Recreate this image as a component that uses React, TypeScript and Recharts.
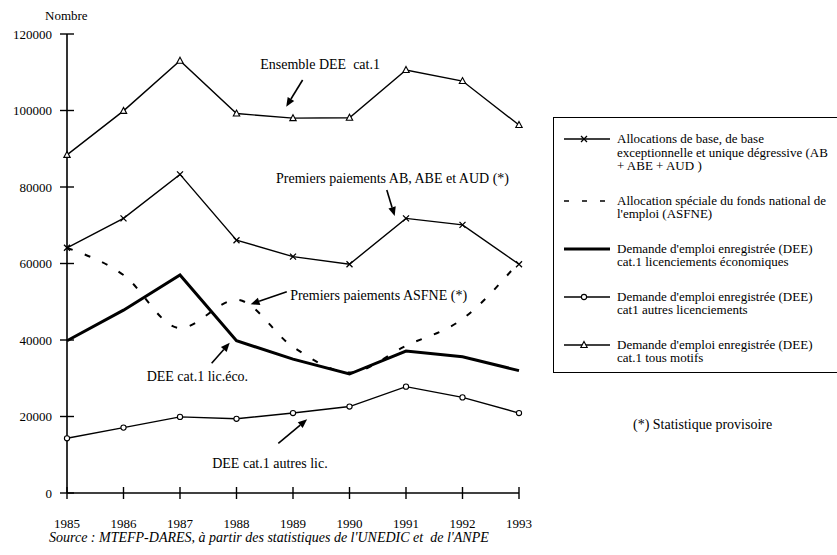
import { LineChart, Line, XAxis, YAxis, ReferenceLine, ReferenceDot } from 'recharts';

// années et séries
const years = [1985, 1986, 1987, 1988, 1989, 1990, 1991, 1992, 1993];
const allocAB = [64100, 71800, 83300, 66100, 61800, 59800, 71800, 70100, 59800];
const asfne = [64100, 57000, 43100, 50500, 38200, 31500, 38500, 45500, 60400];
const deeEco = [39800, 47800, 57000, 39800, 35000, 31100, 37100, 35600, 32000];
const deeAutres = [14300, 17100, 19900, 19400, 20900, 22600, 27800, 25000, 20900];
const deeTous = [88400, 99900, 113000, 99200, 98000, 98100, 110600, 107700, 96200];
const yTicks = [0, 20000, 40000, 60000, 80000, 100000, 120000];

const legendItems = [
  { kind: 'cross', lines: ['Allocations de base, de base', 'exceptionnelle et unique dégressive (AB', '+ ABE + AUD )'] },
  { kind: 'dash', lines: ['Allocation spéciale du fonds national de', "l'emploi (ASFNE)"] },
  { kind: 'thick', lines: ["Demande d'emploi enregistrée (DEE)", 'cat.1 licenciements économiques'] },
  { kind: 'circle', lines: ["Demande d'emploi enregistrée (DEE)", 'cat1 autres licenciements'] },
  { kind: 'triangle', lines: ["Demande d'emploi enregistrée (DEE)", 'cat.1 tous motifs'] },
];

// annotations (en coordonnées de données)
const labels = [
  { x: 1988.42, y: 111900, text: 'Ensemble DEE  cat.1' },
  { x: 1988.7, y: 82350, text: 'Premiers paiements AB, ABE et AUD (*)' },
  { x: 1988.95, y: 51760, text: 'Premiers paiements ASFNE (*)' },
  { x: 1986.41, y: 30400, text: 'DEE cat.1 lic.éco.' },
  { x: 1987.57, y: 7760, text: 'DEE cat.1 autres lic.' },
];
const arrows = [
  { from: [1989.17, 107970], to: [1988.88, 101000] },
  { from: [1990.66, 79210], to: [1990.8, 72400] },
  { from: [1988.89, 52630], to: [1988.25, 49330] },
  { from: [1987.56, 33910], to: [1987.88, 39290] },
  { from: [1988.74, 12990], to: [1989.25, 19270] },
];

const data = years.map((year, i) => ({
  year,
  ab: allocAB[i],
  asfne: asfne[i],
  eco: deeEco[i],
  autres: deeAutres[i],
  tous: deeTous[i],
}));

const FONT = '"Liberation Serif", "Times New Roman", serif';

const CrossDot = (p: any) => {
  const { cx, cy } = p;
  if (cx == null || cy == null) return null;
  const s = 3;
  return (
    <path key={p.index} d={`M${cx - s},${cy - s}L${cx + s},${cy + s}M${cx - s},${cy + s}L${cx + s},${cy - s}`} stroke="#000" strokeWidth={1.3} />
  );
};

const CircleDot = (p: any) => {
  const { cx, cy } = p;
  if (cx == null || cy == null) return null;
  return <circle key={p.index} cx={cx} cy={cy} r={2.6} fill="#fff" stroke="#000" strokeWidth={1.1} />;
};

const TriangleDot = (p: any) => {
  const { cx, cy } = p;
  if (cx == null || cy == null) return null;
  return <path key={p.index} d={`M${cx},${cy - 3.5}L${cx + 3.2},${cy + 2.5}L${cx - 3.2},${cy + 2.5}Z`} fill="#fff" stroke="#000" strokeWidth={1.1} />;
};

const YTick = (p: any) => {
  const { x, y, payload } = p;
  return (
    <g>
      <line x1={x - 7} x2={x + 7} y1={y} y2={y} stroke="#000" strokeWidth={1.4} />
      <text x={x - 15} y={y} textAnchor="end" dominantBaseline="central" fontSize={13} fontFamily={FONT} fill="#000">
        {payload.value}
      </text>
    </g>
  );
};

const XTick = (p: any) => {
  const { x, y, payload } = p;
  return (
    <g>
      <line x1={x} x2={x} y1={y - 6} y2={y + 6} stroke="#000" strokeWidth={1.4} />
      <text x={x} y={y + 30} textAnchor="middle" dominantBaseline="central" fontSize={13} fontFamily={FONT} fill="#000">
        {payload.value}
      </text>
    </g>
  );
};

const Arrow = (p: any) => {
  const { x1, y1, x2, y2 } = p;
  if ([x1, y1, x2, y2].some((v) => v == null)) return null;
  const a = Math.atan2(y2 - y1, x2 - x1);
  const L = 9;
  const W = 3.8;
  const bx = x2 - L * Math.cos(a);
  const by = y2 - L * Math.sin(a);
  const px = -Math.sin(a) * W;
  const py = Math.cos(a) * W;
  return (
    <g>
      <line x1={x1} y1={y1} x2={bx} y2={by} stroke="#000" strokeWidth={1.6} />
      <path d={`M${x2},${y2}L${bx + px},${by + py}L${bx - px},${by - py}Z`} fill="#000" />
    </g>
  );
};

const LegendSample = ({ kind }: { kind: string }) => {
  const y = 7;
  return (
    <svg width={46} height={14} style={{ position: 'absolute', left: 10, top: 0 }}>
      {kind === 'dash' ? (
        <line x1={0} x2={46} y1={y} y2={y} stroke="#000" strokeWidth={1.6} strokeDasharray="5 13" />
      ) : (
        <line x1={0} x2={46} y1={y} y2={y} stroke="#000" strokeWidth={kind === 'thick' ? 3 : 1.3} />
      )}
      {kind === 'cross' && <CrossDot cx={20} cy={y} />}
      {kind === 'circle' && <CircleDot cx={20} cy={y} />}
      {kind === 'triangle' && <TriangleDot cx={20} cy={y} />}
    </svg>
  );
};

export default function App() {
  return (
    <div
      style={{
        position: 'absolute',
        left: 0,
        top: 0,
        width: 837,
        height: 555,
        background: '#fff',
        overflow: 'hidden',
        fontFamily: FONT,
        color: '#000',
      }}
    >
      <div style={{ position: 'absolute', left: 45, top: 8, fontSize: 13 }}>Nombre</div>
      <LineChart width={837} height={555} data={data} margin={{ top: 34, right: 318, left: 0, bottom: 0 }}>
        <XAxis
          dataKey="year"
          type="number"
          domain={[1985, 1993]}
          ticks={years}
          height={62}
          tickSize={0}
          tickMargin={0}
          tickLine={false}
          axisLine={{ stroke: '#000', strokeWidth: 1.6 }}
          tick={<XTick />}
          interval={0}
        />
        <YAxis
          domain={[0, 120000]}
          ticks={yTicks}
          width={67}
          tickSize={0}
          tickMargin={0}
          tickLine={false}
          axisLine={{ stroke: '#000', strokeWidth: 1.6 }}
          tick={<YTick />}
          interval={0}
        />
        <Line dataKey="tous" stroke="#000" strokeWidth={1.4} dot={TriangleDot} isAnimationActive={false} type="linear" />
        <Line dataKey="ab" stroke="#000" strokeWidth={1.4} dot={CrossDot} isAnimationActive={false} type="linear" />
        <Line
          dataKey="asfne"
          stroke="#000"
          strokeWidth={2}
          strokeDasharray="6 13"
          dot={false}
          isAnimationActive={false}
          type="monotone"
        />
        <Line dataKey="eco" stroke="#000" strokeWidth={3} dot={false} isAnimationActive={false} type="linear" />
        <Line dataKey="autres" stroke="#000" strokeWidth={1.4} dot={CircleDot} isAnimationActive={false} type="linear" />
        {arrows.map((a, i) => (
          <ReferenceLine
            key={`a${i}`}
            segment={[
              { x: a.from[0], y: a.from[1] },
              { x: a.to[0], y: a.to[1] },
            ]}
            shape={Arrow}
          />
        ))}
        {labels.map((l, i) => (
          <ReferenceDot
            key={`l${i}`}
            x={l.x}
            y={l.y}
            r={0}
            shape={(p: any) => (
              <text
                x={p.cx}
                y={p.cy}
                dominantBaseline="central"
                fontSize={14}
                fontFamily={FONT}
                fill="#000"
                style={{ whiteSpace: 'pre' }}
              >
                {l.text}
              </text>
            )}
          />
        ))}
      </LineChart>
      <div
        style={{
          position: 'absolute',
          left: 553,
          top: 117,
          width: 320,
          height: 256,
          boxSizing: 'border-box',
          border: '1.5px solid #000',
          paddingTop: 14,
        }}
      >
        {legendItems.map((item, i) => (
          <div key={i} style={{ position: 'relative', marginBottom: 21, paddingLeft: 63, fontSize: 13, lineHeight: '13.5px' }}>
            <LegendSample kind={item.kind} />
            {item.lines.map((t, j) => (
              <div key={j} style={{ whiteSpace: 'nowrap' }}>
                {t}
              </div>
            ))}
          </div>
        ))}
      </div>
      <div style={{ position: 'absolute', left: 633, top: 417, fontSize: 14 }}>(*) Statistique provisoire</div>
      <div style={{ position: 'absolute', left: 49, top: 530, fontSize: 14, fontStyle: 'italic', whiteSpace: 'pre' }}>
        Source : MTEFP-DARES, à partir des statistiques de l'UNEDIC et  de l'ANPE
      </div>
    </div>
  );
}
